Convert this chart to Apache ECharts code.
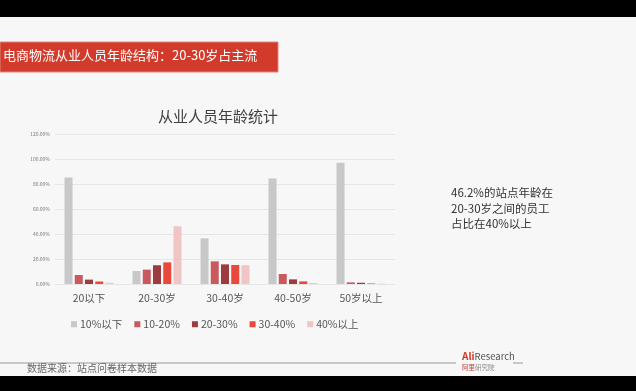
<!DOCTYPE html>
<html><head><meta charset="utf-8">
<script src="https://cdn.jsdelivr.net/npm/echarts@6/dist/echarts.min.js"></script>
<style>html,body{margin:0;padding:0;background:#f7f7f7;}#c{width:636px;height:391px;}</style>
</head><body><div id="c"></div>
<script>
const categories = ['20以下', '20-30岁', '30-40岁', '40-50岁', '50岁以上'];
const seriesNames = ['10%以下', '10-20%', '20-30%', '30-40%', '40%以上'];
const s10below = [85.3, 10.4, 36.5, 84.5, 97.0];
const s10to20 = [7.2, 11.5, 18.1, 8.0, 1.3];
const s20to30 = [3.5, 15.0, 15.7, 3.7, 1.0];
const s30to40 = [2.0, 17.3, 15.2, 2.1, 0.4];
const s40above = [1.0, 46.2, 15.0, 0.8, 0.3];
const yTicks = [0, 20, 40, 60, 80, 100, 120];
const colors = ['#c9c8c9', '#c9595c', '#9c3b40', '#e8493b', '#f1c4c6'];
const values = [s10below, s10to20, s20to30, s30to40, s40above];
const F = '"Noto Sans CJK SC", "Noto Sans", sans-serif';

const chart = echarts.init(document.getElementById('c'), null, {renderer: 'canvas'});
chart.setOption({
  backgroundColor: '#f7f7f7',
  animation: false,
  textStyle: {fontFamily: F},
  title: {
    text: '从业人员年龄统计', left: 213, top: 104, textAlign: 'center',
    textStyle: {fontSize: 15, fontWeight: 'normal', color: '#404040', fontFamily: F}
  },
  legend: {
    data: seriesNames, left: 66, top: 314, itemWidth: 6, itemHeight: 6, itemGap: 12,
    icon: 'rect',
    textStyle: {fontSize: 10.5, color: '#555', fontFamily: F, padding: [0,0,0,-2]}
  },
  grid: {left: 55, right: 241, top: 134, bottom: 107, containLabel: false},
  xAxis: {
    type: 'category', data: categories,
    axisLine: {show: false}, axisTick: {show: false},
    axisLabel: {fontSize: 10.5, color: '#555', margin: 9, fontFamily: F}
  },
  yAxis: {
    type: 'value', min: yTicks[0], max: yTicks[yTicks.length-1], interval: 20,
    axisLine: {show: false}, axisTick: {show: false},
    axisLabel: {fontSize: 5, color: '#777', margin: 5, formatter: v => v.toFixed(2) + '%'},
    splitLine: {lineStyle: {color: '#e6e6e6', width: 1}}
  },
  series: seriesNames.map((n, i) => ({
    name: n, type: 'bar', data: values[i], barWidth: 8, barGap: '28%',
    itemStyle: {color: colors[i]}
  })),
  graphic: [
    {type: 'rect', shape: {x: 0, y: 0, width: 636, height: 17}, style: {fill: '#000'}},
    {type: 'rect', shape: {x: 0, y: 376, width: 636, height: 15}, style: {fill: '#000'}},
    {type: 'rect', shape: {x: 0, y: 42, width: 278, height: 30}, style: {fill: '#d23b2b', stroke: '#e0867c', lineWidth: 1}},
    {type: 'text', left: 3, top: 49, style: {text: '电商物流从业人员年龄结构：20-30岁占主流', fill: '#fff', fontSize: 13, fontFamily: F}},
    {type: 'text', left: 451, top: 185, style: {text: '46.2%的站点年龄在\n20-30岁之间的员工\n占比在40%以上', fill: '#333', fontSize: 11.5, lineHeight: 15.5, fontFamily: F}},
    {type: 'line', shape: {x1: 0, y1: 363, x2: 456, y2: 363}, style: {stroke: '#999', lineWidth: 1}},
    {type: 'line', shape: {x1: 513, y1: 363, x2: 523, y2: 363}, style: {stroke: '#999', lineWidth: 1}},
    {type: 'text', left: 27, top: 363, style: {text: '数据来源：站点问卷样本数据', fill: '#666', fontSize: 10, fontFamily: F}},
    {type: 'text', left: 462, top: 351, style: {text: '{a|Ali}{b|Research}', rich: {a: {fill: '#d23b2b', fontWeight: 'bold', fontSize: 10, fontFamily: F}, b: {fill: '#555', fontSize: 9.5, fontFamily: F}}}},
    {type: 'text', left: 462, top: 364, style: {text: '{a|阿里}{b|研究院}', rich: {a: {fill: '#c03a3a', fontSize: 6.5, fontFamily: F}, b: {fill: '#888', fontSize: 6.5, fontFamily: F}}}}
  ]
});
</script></body></html>
